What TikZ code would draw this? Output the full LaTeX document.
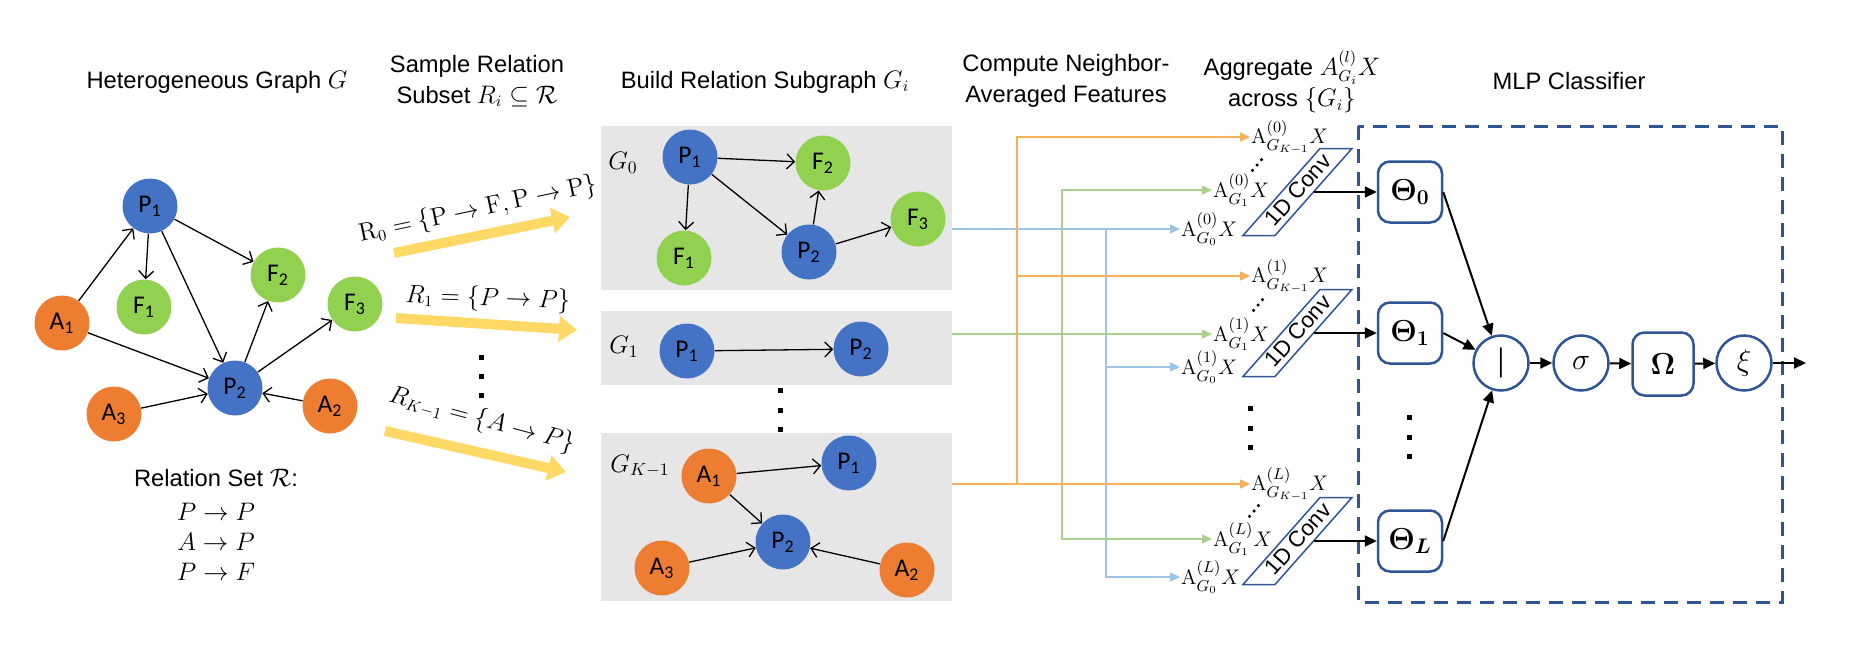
\documentclass[tikz,border=0pt]{standalone}
\usepackage{amsmath, amssymb}
\usepackage[no-math]{fontspec}
\newfontfamily\arialfont{Liberation Sans}
\newfontfamily\calibrifont{Carlito}
\usepackage{tikz}
\usetikzlibrary{arrows.meta}
\usetikzlibrary{positioning,calc}
\usepackage{xcolor}
\definecolor{nodeblue}{RGB}{68,114,196}
\definecolor{nodeorange}{RGB}{237,125,49}
\definecolor{nodegreen}{RGB}{146,208,80}
\definecolor{boxgray}{RGB}{231,230,230}
\definecolor{mlpblue}{RGB}{47,85,151}
\definecolor{wireorange}{RGB}{244,177,90}
\definecolor{wiregreen}{RGB}{169,209,142}
\definecolor{wireblue}{RGB}{157,195,230}
\definecolor{relyellow}{RGB}{255,217,102}
\tikzset{
    vertex/.style={
        circle,
        minimum size=11mm,
        inner sep=0pt,
        font=\calibrifont\fontsize{14.5}{16}\selectfont
    },
    pnode/.style={vertex, fill=nodeblue},
    anode/.style={vertex, fill=nodeorange},
    fnode/.style={vertex, fill=nodegreen},
    gedge/.style={
        draw,
        line width=0.26mm,
        -{Straight Barb[length=1.5mm, width=3mm]}
    },
    gbox/.style={fill=boxgray, inner sep=0pt, minimum width=70.2mm},
    title/.style={font=\arialfont\fontsize{13.5}{17.6}\selectfont, align=center},
    rlabel/.style={font=\fontsize{13.5}{16}\selectfont, inner sep=0pt},
    relarrow/.style={line width=2mm, relyellow, -{Triangle[length=3.6mm, width=5mm]}},
    owire/.style={line width=0.3mm, wireorange, -{Triangle[length=2mm, width=1.8mm]}},
    gwire/.style={line width=0.3mm, wiregreen, -{Triangle[length=2mm, width=1.8mm]}},
    bwire/.style={line width=0.3mm, wireblue, -{Triangle[length=2mm, width=1.8mm]}},
    alabel/.style={anchor=west, inner sep=0.5pt, font=\fontsize{13}{15}\selectfont},
    convbox/.style={draw=mlpblue, line width=0.3mm},
    convtext/.style={font=\arialfont\fontsize{12.7}{14}\selectfont, inner sep=0pt, rotate=48.5},
    mlpbox/.style={
        draw=mlpblue,
        line width=0.5mm,
        rounded corners=2.4mm,
        minimum width=12.8mm,
        minimum height=12.2mm,
        font=\fontsize{17}{20}\selectfont
    },
    mlpcirc/.style={
        draw=mlpblue,
        line width=0.5mm,
        circle,
        minimum size=11mm,
        inner sep=0pt,
        font=\fontsize{17}{20}\selectfont
    },
    mlparrow/.style={line width=0.4mm, -{Triangle[length=2.4mm, width=2.2mm]}}
}

\begin{document}
\begin{tikzpicture}[x=0.2mm, y=-0.2mm]
  \useasboundingbox (0,0) rectangle (1852,650);

  % Column titles
  \node[title] (ttlhet) at (217,82) {Heterogeneous Graph $G$};
  \node[title] (ttlsam) at (477,81) {Sample Relation\\Subset $R_i \subseteq \mathcal{R}$};
  \node[title] (ttlbld) at (765,82) {Build Relation Subgraph $G_i$};
  \node[title] (ttlcmp) at (1066,81) {Compute Neighbor-\\Averaged Features};
  \node[title] (ttlagg) at (1292,82) {Aggregate $A^{(l)}_{G_i}X$\\across $\{G_i\}$};
  \node[title] (ttlmlp) at (1569,81) {MLP Classifier};

  % Heterogeneous graph
  \node[pnode] (hp1) at (150,206) {P\textsubscript{1}};
  \node[fnode] (hf1) at (144,307) {F\textsubscript{1}};
  \node[fnode] (hf2) at (278,275) {F\textsubscript{2}};
  \node[fnode] (hf3) at (355,304) {F\textsubscript{3}};
  \node[anode] (ha1) at (62,323) {A\textsubscript{1}};
  \node[pnode] (hp2) at (235,388) {P\textsubscript{2}};
  \node[anode] (ha3) at (114,414) {A\textsubscript{3}};
  \node[anode] (ha2) at (330,406) {A\textsubscript{2}};
  \draw[gedge] (ha1) -- (hp1);
  \draw[gedge] (hp1) -- (hf1);
  \draw[gedge] (hp1) -- (hf2);
  \draw[gedge] (hp1) -- (hp2);
  \draw[gedge] (ha1) -- (hp2);
  \draw[gedge] (hp2) -- (hf2);
  \draw[gedge] (hp2) -- (hf3);
  \draw[gedge] (ha3) -- (hp2);
  \draw[gedge] (ha2) -- (hp2);

  % Relation set
  \node[title] (relset) at (216,478) {Relation Set $\mathcal{R}$:};
  \node[rlabel] (rel1) at (216,512) {$P \rightarrow P$};
  \node[rlabel] (rel2) at (216,542) {$A \rightarrow P$};
  \node[rlabel] (rel3) at (216,572) {$P \rightarrow F$};

  % Sampled relation subsets
  \coordinate (r0s) at (394,253);
  \coordinate (r0e) at (570,217);
  \coordinate (r1s) at (396,318);
  \coordinate (r1e) at (577,330);
  \coordinate (rks) at (385,431);
  \coordinate (rke) at (566,472);
  \draw[relarrow] (r0s) -- (r0e);
  \draw[relarrow] (r1s) -- (r1e);
  \draw[relarrow] (rks) -- (rke);
  \node[rlabel, rotate=12] (rl0) at (478,210) {$\mathrm{R}_0 = \{\mathrm{P} \rightarrow \mathrm{F}, \mathrm{P} \rightarrow \mathrm{P}\}$};
  \node[rlabel, rotate=-2] (rl1) at (488,299) {$R_1 = \{P \rightarrow P\}$};
  \node[rlabel, rotate=-15] (rlk) at (482,420) {$R_{K-1} = \{A \rightarrow P\}$};
  \foreach \y in {357,376,395}
    \fill (481-2.5,\y-2.5) rectangle ++(5,5);

  % Relation subgraphs
  \node[gbox, minimum height=32.8mm] (g0) at (776.5,208) {};
  \node[gbox, minimum height=14.8mm] (g1) at (776.5,348) {};
  \node[gbox, minimum height=33.6mm] (gK) at (776.5,517) {};
  \node[rlabel, font=\fontsize{14}{16}\selectfont] (g0lab) at (623,163) {$G_0$};
  \node[rlabel, font=\fontsize{14}{16}\selectfont] (g1lab) at (624,347) {$G_1$};
  \node[rlabel, font=\fontsize{14}{16}\selectfont] (gKlab) at (640,466) {$G_{K-1}$};
  \foreach \y in {390,410,429}
    \fill (780-2.5,\y-2.5) rectangle ++(5,5);

  % G_0
  \node[pnode] (s0p1) at (690,157) {P\textsubscript{1}};
  \node[fnode] (s0f2) at (823,163) {F\textsubscript{2}};
  \node[fnode] (s0f1) at (684,258) {F\textsubscript{1}};
  \node[pnode] (s0p2) at (809,252) {P\textsubscript{2}};
  \node[fnode] (s0f3) at (918,219) {F\textsubscript{3}};
  \draw[gedge] (s0p1) -- (s0f2);
  \draw[gedge] (s0p1) -- (s0f1);
  \draw[gedge] (s0p1) -- (s0p2);
  \draw[gedge] (s0p2) -- (s0f2);
  \draw[gedge] (s0p2) -- (s0f3);

  % G_1
  \node[pnode] (s1p1) at (687,351) {P\textsubscript{1}};
  \node[pnode] (s1p2) at (861,349) {P\textsubscript{2}};
  \draw[gedge] (s1p1) -- (s1p2);

  % G_{K-1}
  \node[anode] (sKa1) at (709,476) {A\textsubscript{1}};
  \node[pnode] (sKp1) at (849,463) {P\textsubscript{1}};
  \node[pnode] (sKp2) at (783,542) {P\textsubscript{2}};
  \node[anode] (sKa3) at (662,568) {A\textsubscript{3}};
  \node[anode] (sKa2) at (907,570) {A\textsubscript{2}};
  \draw[gedge] (sKa1) -- (sKp1);
  \draw[gedge] (sKa1) -- (sKp2);
  \draw[gedge] (sKa3) -- (sKp2);
  \draw[gedge] (sKa2) -- (sKp2);

  % Neighbor-averaged features
  \node[alabel] (a0k) at (1250,137) {$\mathrm{A}^{(0)}_{G_{K-1}}X$};
  \node[alabel] (a01) at (1212,190) {$\mathrm{A}^{(0)}_{G_1}X$};
  \node[alabel] (a00) at (1180,229) {$\mathrm{A}^{(0)}_{G_0}X$};
  \node[alabel] (a1k) at (1250,276) {$\mathrm{A}^{(1)}_{G_{K-1}}X$};
  \node[alabel] (a11) at (1212,334) {$\mathrm{A}^{(1)}_{G_1}X$};
  \node[alabel] (a10) at (1180,367) {$\mathrm{A}^{(1)}_{G_0}X$};
  \node[alabel] (aLk) at (1250,484) {$\mathrm{A}^{(L)}_{G_{K-1}}X$};
  \node[alabel] (aL1) at (1212,539) {$\mathrm{A}^{(L)}_{G_1}X$};
  \node[alabel] (aL0) at (1180,577) {$\mathrm{A}^{(L)}_{G_0}X$};
  % diagonal dots between the rows
  \foreach \cx/\cy in {1257/165, 1258/305, 1254/511}
    \foreach \k in {-1,0,1}
      \fill (\cx+4.5*\k,\cy-5.4*\k) circle[radius=0.35mm];
  \foreach \y in {408,428,447}
    \fill (1250-2.5,\y-2.5) rectangle ++(5,5);

  % Wires from the subgraphs
  \coordinate (bj) at (1106,229);
  \coordinate (gj) at (1062,334);
  \coordinate (oj) at (1017,484);
  \draw[bwire] (g0.east |- a00.west) -- (a00.west);
  \draw[bwire] (bj) |- (a10.west);
  \draw[bwire] (bj) |- (aL0.west);
  \draw[gwire] (g1.east |- a11.west) -- (a11.west);
  \draw[gwire] (gj) |- (a01.west);
  \draw[gwire] (gj) |- (aL1.west);
  \draw[owire] (gK.east |- aLk.west) -- (aLk.west);
  \draw[owire] (oj) |- (a0k.west);
  \draw[owire] (oj) |- (a1k.west);

  % 1D convolutions
  \draw[convbox] (1243,235.5) -- (1275,235.5) -- (1352,148.5) -- (1320,148.5) -- cycle;
  \draw[convbox] (1243,376.5) -- (1275,376.5) -- (1352,289.5) -- (1320,289.5) -- cycle;
  \draw[convbox] (1243,584.5) -- (1275,584.5) -- (1352,497.5) -- (1320,497.5) -- cycle;
  \node[convtext] (cv0) at (1298,190) {1D Conv};
  \node[convtext] (cv1) at (1298,331) {1D Conv};
  \node[convtext] (cvL) at (1298,539) {1D Conv};
  \coordinate (c0) at (1313.5,192);
  \coordinate (c1) at (1313.5,333);
  \coordinate (cL) at (1313.5,541);

  % MLP classifier
  \draw[mlpblue, line width=0.6mm, dash pattern=on 2.8mm off 1.8mm] (1358,126) rectangle (1782,602);
  \node[mlpbox] (t0) at (1410,192) {$\boldsymbol{\Theta_0}$};
  \node[mlpbox] (t1) at (1410,333) {$\boldsymbol{\Theta_1}$};
  \node[mlpbox] (tL) at (1410,541) {$\boldsymbol{\Theta_L}$};
  \foreach \y in {417,437,456}
    \fill (1409-2.5,\y-2.5) rectangle ++(5,5);
  \node[mlpcirc] (cat) at (1501,363) {$\boldsymbol{|}$};
  \node[mlpcirc] (sig) at (1581,363) {$\sigma$};
  \node[mlpbox, minimum width=12.2mm, minimum height=12.6mm] (om) at (1663,364) {$\boldsymbol{\Omega}$};
  \node[mlpcirc] (xi) at (1744,363) {$\xi$};
  \coordinate (out) at (1806,363);

  \draw[mlparrow] (c0) -- (t0.west);
  \draw[mlparrow] (c1) -- (t1.west);
  \draw[mlparrow] (cL) -- (tL.west);
  \draw[mlparrow] (t0.east) -- (cat);
  \draw[mlparrow] (t1.east) -- (cat);
  \draw[mlparrow] (tL.east) -- (cat);
  \draw[mlparrow] (cat) -- (sig);
  \draw[mlparrow] (sig) -- (om);
  \draw[mlparrow] (om) -- (xi);
  \draw[mlparrow] (xi) -- (out);
\end{tikzpicture}
\end{document}
